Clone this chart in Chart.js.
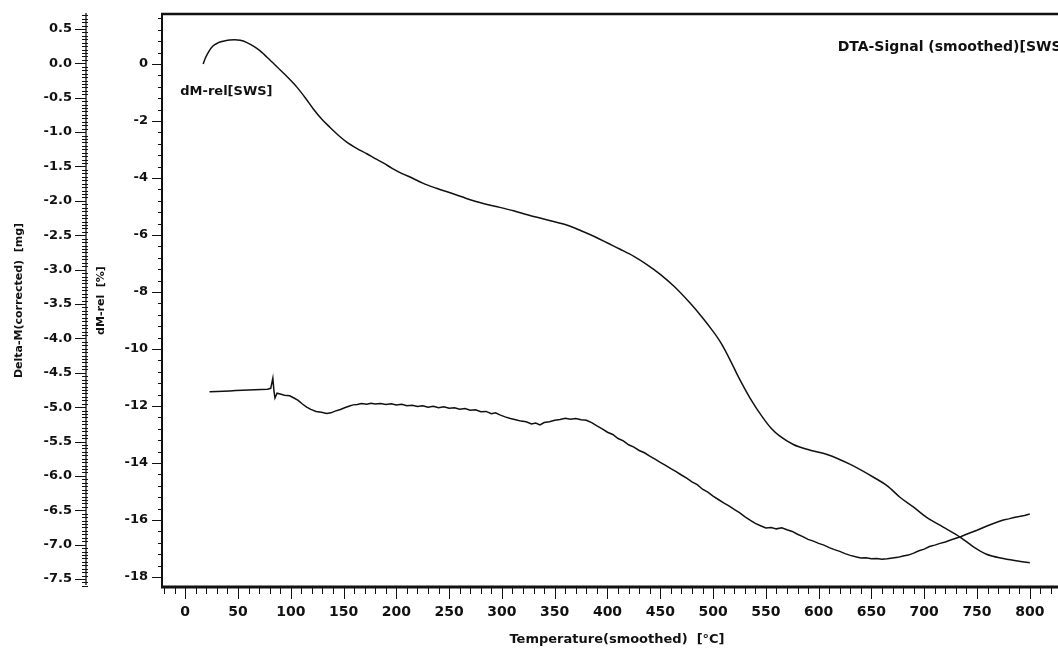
<!DOCTYPE html>
<html lang="en">
<head>
  <meta charset="UTF-8">
  <title>TG / DTA</title>
  <script src="https://cdn.jsdelivr.net/npm/chart.js"></script>
  <style>
    html, body {
      margin: 0;
      padding: 0;
      background: #fff;
      overflow: hidden;
    }
    .wrap {
      position: relative;
      width: 1072px;
      height: 652px;
    }
  </style>
</head>
<body>
  <div class="wrap">
    <canvas id="tg-chart"></canvas>
  </div>

  <script>
    // relative mass change dM-rel [%] vs temperature
    const relTemps = [17, 19, 22, 26, 31, 36, 42, 47, 52, 58, 65, 71, 80, 90, 98, 106, 114, 121, 129, 137,
      145, 153, 162, 172, 180, 188, 196, 204, 215, 225, 238, 251, 262, 273, 285, 298, 311, 325, 346, 362,
      375, 388, 400, 412, 425, 437, 450, 463, 478, 490, 500, 507, 515, 525, 535, 547, 555, 563, 576, 592,
      608, 630, 652, 665, 677, 690, 702, 718, 734, 747, 759, 775, 790, 800];
    const relValues = [0.0, 0.2, 0.42, 0.62, 0.74, 0.8, 0.84, 0.85, 0.83, 0.76, 0.62, 0.46, 0.15, -0.21, -0.5, -0.82, -1.2, -1.56, -1.92, -2.22,
      -2.5, -2.74, -2.95, -3.15, -3.32, -3.48, -3.66, -3.82, -4.0, -4.18, -4.36, -4.52, -4.66, -4.8, -4.92, -5.03, -5.15, -5.3, -5.5, -5.66,
      -5.85, -6.06, -6.28, -6.5, -6.75, -7.03, -7.38, -7.8, -8.38, -8.9, -9.38, -9.76, -10.3, -11.05, -11.72, -12.4, -12.78, -13.05, -13.35, -13.55,
      -13.7, -14.05, -14.5, -14.8, -15.2, -15.55, -15.9, -16.25, -16.6, -16.95, -17.2, -17.35, -17.45, -17.5];

    // DTA signal (smoothed), plotted on a hidden axis sharing the dM-rel range
    const dtaTemps = [23, 30, 36, 42, 48, 54, 60, 66, 72, 78, 81, 83, 84, 85, 87, 90, 94, 99, 103, 107,
      111, 115, 119, 124, 129, 134, 138, 142, 147, 151, 155, 159, 163, 167, 172, 176, 180, 185, 190, 195,
      200, 205, 210, 215, 220, 225, 230, 235, 240, 245, 250, 255, 260, 265, 270, 275, 280, 285, 290, 294,
      298, 303, 308, 313, 318, 323, 328, 332, 336, 340, 345, 350, 355, 360, 365, 370, 375, 380, 385, 390,
      395, 400, 405, 410, 415, 420, 425, 430, 435, 440, 445, 450, 455, 460, 465, 470, 475, 480, 485, 490,
      495, 500, 505, 510, 515, 520, 525, 530, 535, 540, 545, 550, 555, 560, 565, 570, 575, 580, 585, 590,
      595, 600, 605, 610, 615, 620, 625, 630, 635, 640, 645, 650, 655, 660, 665, 670, 675, 680, 685, 690,
      695, 700, 705, 710, 715, 720, 725, 730, 735, 740, 745, 750, 755, 760, 765, 770, 775, 780, 785, 790,
      795, 800];
    const dtaValues = [-11.5, -11.49, -11.48, -11.47, -11.46, -11.45, -11.44, -11.43, -11.42, -11.41, -11.38, -11.02, -11.45, -11.72, -11.55, -11.58, -11.62, -11.64, -11.72, -11.8,
      -11.93, -12.04, -12.12, -12.19, -12.22, -12.26, -12.24, -12.18, -12.12, -12.06, -12.01, -11.96, -11.95, -11.91, -11.94, -11.9, -11.93, -11.91, -11.95, -11.92,
      -11.96, -11.94, -11.99, -11.97, -12.02, -11.99, -12.04, -12.01, -12.06, -12.03, -12.08, -12.06, -12.11, -12.09, -12.15, -12.13, -12.2, -12.19, -12.27, -12.24,
      -12.31, -12.38, -12.44, -12.48, -12.53, -12.55, -12.63, -12.6, -12.66, -12.58, -12.55, -12.5, -12.47, -12.43, -12.46, -12.44, -12.48, -12.5, -12.58, -12.7,
      -12.8, -12.92, -13.0, -13.14, -13.22, -13.36, -13.44, -13.56, -13.64, -13.76, -13.86, -13.98, -14.08, -14.2, -14.3, -14.42, -14.53, -14.66, -14.76, -14.92,
      -15.02, -15.16, -15.28, -15.4, -15.5, -15.63, -15.74, -15.88, -16.0, -16.12, -16.2, -16.28, -16.26, -16.31, -16.27, -16.34, -16.4, -16.5, -16.58, -16.68,
      -16.74, -16.82, -16.88, -16.97, -17.04, -17.1, -17.18, -17.24, -17.29, -17.33, -17.32, -17.36, -17.35, -17.38, -17.36, -17.33, -17.31, -17.26, -17.23, -17.16,
      -17.08, -17.02, -16.93, -16.88, -16.82, -16.77, -16.7, -16.64, -16.58, -16.5, -16.43, -16.36, -16.28, -16.2, -16.13, -16.06, -16.0, -15.96, -15.91, -15.88,
      -15.84, -15.79];

    // tick labels
    const tempTicks = [0, 50, 100, 150, 200, 250, 300, 350, 400, 450, 500, 550, 600, 650, 700, 750, 800];
    const deltaTicks = [0.5, 0.0, -0.5, -1.0, -1.5, -2.0, -2.5, -3.0, -3.5, -4.0, -4.5, -5.0, -5.5, -6.0, -6.5, -7.0, -7.5];
    const relTicks = [0, -2, -4, -6, -8, -10, -12, -14, -16, -18];

    const INK = '#111';
    const FONT = 'DejaVu Sans';

    Chart.defaults.font.family = FONT;
    Chart.defaults.color = INK;

    const toPoints = (xs, ys) => xs.map((x, i) => ({ x: x, y: ys[i] }));
    const setTicks = (values) => (scale) => { scale.ticks = values.map((v) => ({ value: v })); };
    const noGrid = { display: false, drawTicks: false, tickLength: 0 };

    // fixed axis box sizes, without the label overhang padding
    const fixWidth = (w) => (scale) => {
      scale.width = w;
      scale.paddingTop = 0;
      scale.paddingBottom = 0;
    };

    // frame, axis lines and major/minor tick marks
    const framePlugin = {
      id: 'frame',
      afterDraw(chart) {
        const { ctx, chartArea: a, scales } = chart;
        const line = (x1, y1, x2, y2) => {
          ctx.beginPath();
          ctx.moveTo(x1, y1);
          ctx.lineTo(x2, y2);
          ctx.stroke();
        };
        ctx.save();
        ctx.strokeStyle = INK;

        ctx.lineWidth = 2.5;
        line(a.left - 1, a.top, a.right, a.top);
        ctx.lineWidth = 3;
        line(a.left - 1, a.bottom, a.right, a.bottom);
        ctx.lineWidth = 2;
        line(a.left, a.top, a.left, a.bottom);

        // Delta-M axis
        const d = scales.yDelta;
        ctx.lineWidth = 1.3;
        line(d.right, a.top - 1, d.right, a.bottom - 2);
        ctx.lineWidth = 1;
        for (let i = Math.ceil(d.min / 0.05); i <= Math.floor(d.max / 0.05); i++) {
          const y = Math.round(d.getPixelForValue(i * 0.05)) + 0.5;
          const major = i % 10 === 0;
          line(d.right - (major ? 11 : 4), y, d.right + (major ? 0 : 2), y);
        }

        // dM-rel axis
        const r = scales.yRel;
        for (let i = Math.ceil(r.min / 0.4); i <= Math.floor(r.max / 0.4); i++) {
          const y = Math.round(r.getPixelForValue(i * 0.4)) + 0.5;
          line(a.left - (i % 5 === 0 ? 10 : 4), y, a.left, y);
        }

        // temperature axis
        const t = scales.x;
        for (let i = Math.ceil(t.min / 10); i <= Math.floor(t.max / 10); i++) {
          const x = Math.round(t.getPixelForValue(i * 10)) + 0.5;
          line(x, a.bottom + 1, x, a.bottom + 1 + (i % 5 === 0 ? 11 : 6));
        }

        // curve captions
        ctx.fillStyle = INK;
        ctx.textBaseline = 'middle';
        ctx.textAlign = 'left';
        ctx.font = 'bold 13px ' + FONT;
        ctx.fillText('dM-rel[SWS]', t.getPixelForValue(-4.7), r.getPixelForValue(-0.98));
        ctx.font = 'bold 14px ' + FONT;
        ctx.fillText('DTA-Signal (smoothed)[SWS]', t.getPixelForValue(618), r.getPixelForValue(0.6));
        ctx.restore();
      }
    };

    new Chart(document.getElementById('tg-chart'), {
      type: 'line',
      data: {
        datasets: [
          {
            label: 'dM-rel[SWS]',
            data: toPoints(relTemps, relValues),
            yAxisID: 'yRel',
            borderColor: INK,
            borderWidth: 1.5,
            pointRadius: 0,
            cubicInterpolationMode: 'monotone',
            fill: false
          },
          {
            label: 'DTA-Signal (smoothed)[SWS]',
            data: toPoints(dtaTemps, dtaValues),
            yAxisID: 'yDta',
            borderColor: INK,
            borderWidth: 1.5,
            pointRadius: 0,
            tension: 0,
            fill: false
          }
        ]
      },
      options: {
        responsive: true,
        maintainAspectRatio: false,
        animation: false,
        layout: { padding: { top: 14, left: 0, right: 0, bottom: 0 } },
        plugins: {
          legend: { display: false },
          tooltip: { enabled: false }
        },
        scales: {
          x: {
            type: 'linear',
            position: 'bottom',
            min: -22,
            max: 840,
            grid: noGrid,
            border: { display: false },
            afterBuildTicks: setTicks(tempTicks),
            afterFit: (scale) => {
              scale.height = 65;
              scale.paddingLeft = 0;
              scale.paddingRight = 0;
            },
            ticks: {
              padding: 17,
              autoSkip: false,
              maxRotation: 0,
              font: { size: 14, weight: 'bold' },
              callback: (v) => String(v)
            },
            title: {
              display: true,
              text: 'Temperature(smoothed)  [°C]',
              font: { size: 13, weight: 'bold' },
              padding: { top: 0, bottom: 5 }
            }
          },
          yDelta: {
            type: 'linear',
            position: 'left',
            weight: 1,
            min: -7.616,
            max: 0.718,
            grid: noGrid,
            border: { display: false },
            afterBuildTicks: setTicks(deltaTicks),
            afterFit: fixWidth(86),
            ticks: {
              padding: 14,
              autoSkip: false,
              font: { size: 13, weight: 'bold' },
              callback: (v) => v.toFixed(1)
            },
            title: {
              display: true,
              text: 'Delta-M(corrected)  [mg]',
              font: { size: 11, weight: 'bold' },
              padding: { top: 13, bottom: 0 }
            }
          },
          yRel: {
            type: 'linear',
            position: 'left',
            weight: 0,
            min: -18.35,
            max: 1.754,
            grid: noGrid,
            border: { display: false },
            afterBuildTicks: setTicks(relTicks),
            afterFit: fixWidth(76),
            ticks: {
              padding: 14,
              autoSkip: false,
              font: { size: 13, weight: 'bold' },
              callback: (v) => String(v)
            },
            title: {
              display: true,
              text: 'dM-rel  [%]',
              font: { size: 11, weight: 'bold' },
              padding: { top: 9, bottom: 0 }
            }
          },
          yDta: {
            type: 'linear',
            display: false,
            min: -18.35,
            max: 1.754
          }
        }
      },
      plugins: [framePlugin]
    });
  </script>
</body>
</html>
